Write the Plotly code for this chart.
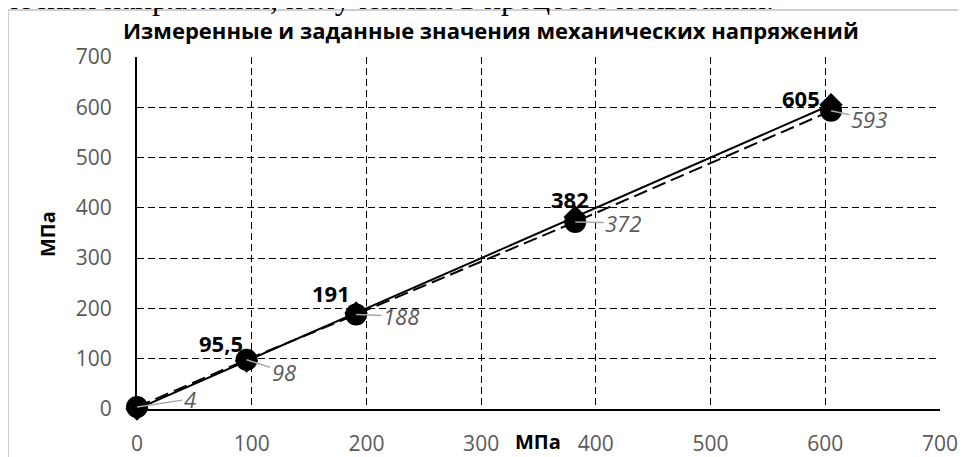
import plotly.graph_objects as go

# ---- data ----
set_values = [0, 95.5, 191, 382, 605]          # заданные значения (x and reference y)
measured_values = [4, 98, 188, 372, 593]        # измеренные значения
set_labels = ["", "95,5", "191", "382", "605"]
measured_labels = ["4", "98", "188", "372", "593"]
tick_values = [0, 100, 200, 300, 400, 500, 600, 700]

title_text = "Измеренные и заданные значения механических напряжений"
axis_title = "МПа"
doc_text = "механических напряжений, полученных в процессе испытаний."

# ---- layout geometry (pixels, page coordinates; page has 8px body margin) ----
OFF = 8
W, H = 966 - OFF, 457 - OFF
ML, MR, MT, MB = 137 - OFF, 25.5, 57 - OFF, 48
PW, PH = W - ML - MR, H - MT - MB

def px_x(p):
    return (p - OFF - ML) / PW

def px_y(p):
    return 1 - (p - OFF - MT) / PH

fig = go.Figure()

fig.add_trace(go.Scatter(
    x=set_values, y=set_values, mode="lines+markers",
    line=dict(color="black", width=2),
    marker=dict(symbol="diamond", size=18, color="black"),
    showlegend=False, hoverinfo="skip", cliponaxis=False))

fig.add_trace(go.Scatter(
    x=set_values, y=measured_values, mode="lines+markers",
    line=dict(color="black", width=2, dash="14px,6px"),
    marker=dict(symbol="circle", size=22, color="black"),
    showlegend=False, hoverinfo="skip", cliponaxis=False))

annotations = []
# bold labels of set values (above-left)
set_offsets = [(0, 0), (-26, -18), (-25, -20), (-5, -18), (-30, -7)]
for xv, lab, (dx, dy) in zip(set_values, set_labels, set_offsets):
    if not lab:
        continue
    annotations.append(dict(
        x=xv, y=xv, xref="x", yref="y", text=lab, showarrow=False,
        xshift=dx, yshift=-dy,
        font=dict(family="Open Sans", size=22, color="black", weight="bold")))

# gray italic labels of measured values with leader lines
meas_offsets = [(53, -8), (37, 12), (45, 2), (48, 1), (38, 8)]
for xv, yv, lab, (dx, dy) in zip(set_values, measured_values, measured_labels, meas_offsets):
    annotations.append(dict(
        x=xv, y=yv, xref="x", yref="y", text="<i>%s</i>" % lab,
        showarrow=True, arrowhead=0, arrowwidth=1.5, arrowcolor="#a6a6a6",
        ax=dx, ay=dy, standoff=0,
        font=dict(family="Open Sans", size=22, color="#595959")))

# chart title
annotations.append(dict(
    x=px_x(491), y=px_y(30), xref="paper", yref="paper", text=title_text,
    showarrow=False, xanchor="center", yanchor="middle",
    font=dict(family="Open Sans", size=22, color="black", weight="bold")))

# axis titles
annotations.append(dict(
    x=px_x(47), y=px_y(234), xref="paper", yref="paper", text=axis_title,
    showarrow=False, textangle=-90, xanchor="center", yanchor="middle",
    font=dict(family="Open Sans", size=20, color="black", weight="bold")))
annotations.append(dict(
    x=px_x(538), y=px_y(441), xref="paper", yref="paper", text=axis_title,
    showarrow=False, xanchor="center", yanchor="middle",
    font=dict(family="Open Sans", size=20, color="black", weight="bold")))

# document text cut off at the top
annotations.append(dict(
    x=px_x(776), y=px_y(-2.5), xref="paper", yref="paper", text=doc_text,
    showarrow=False, xanchor="right", yanchor="middle",
    font=dict(family="Liberation Serif", size=32, color="black")))

shapes = [dict(
    type="rect", xref="paper", yref="paper",
    x0=px_x(8), x1=px_x(990), y0=px_y(480), y1=px_y(10),
    line=dict(color="#d0d0d0", width=2), fillcolor="rgba(0,0,0,0)", layer="below")]

axis_common = dict(
    range=[0, 700], tickvals=tick_values, showgrid=True, gridcolor="black",
    gridwidth=1, griddash="7px,4px", zeroline=False, showline=True,
    linecolor="black", linewidth=2, ticks="",
    tickfont=dict(family="Open Sans", size=21, color="#595959"),
    fixedrange=True, automargin=False)

fig.update_layout(
    width=W, height=H, margin=dict(l=ML, r=MR, t=MT, b=MB, autoexpand=False),
    paper_bgcolor="white", plot_bgcolor="white",
    xaxis=dict(**axis_common, ticklabelstandoff=15),
    yaxis=dict(**axis_common, ticklabelstandoff=19),
    annotations=annotations, shapes=shapes, showlegend=False)

fig.write_html("out.html")
